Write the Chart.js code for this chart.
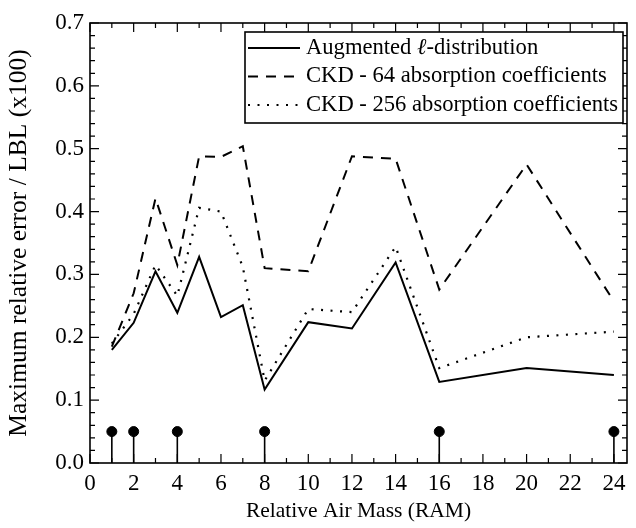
<!DOCTYPE html>
<html>
<head>
<meta charset="utf-8">
<script src="https://cdn.jsdelivr.net/npm/chart.js@4"></script>
<style>
  body { margin: 0; background: #fff; }
</style>
</head>
<body>
<canvas id="myChart" width="636" height="528"></canvas>
<script>
const ram = [1, 2, 3, 4, 5, 6, 7, 8, 10, 12, 14, 16, 20, 24];
const augmented = [0.180, 0.223, 0.305, 0.239, 0.328, 0.232, 0.251, 0.117, 0.224, 0.214, 0.319, 0.129, 0.151, 0.140];
const ckd64 = [0.185, 0.270, 0.421, 0.315, 0.488, 0.487, 0.504, 0.310, 0.305, 0.488, 0.484, 0.276, 0.475, 0.257];
const ckd256 = [0.190, 0.237, 0.315, 0.266, 0.406, 0.400, 0.312, 0.131, 0.245, 0.240, 0.344, 0.151, 0.200, 0.209];
const stemRam = [1, 2, 4, 8, 16, 24];
const stemHeight = [0.05, 0.05, 0.05, 0.05, 0.05, 0.05];
const yTicks = [0, 0.1, 0.2, 0.3, 0.4, 0.5, 0.6, 0.7];

const serif = "'Liberation Serif', 'Times New Roman', serif";
Chart.defaults.font.family = serif;
Chart.defaults.font.size = 23;
Chart.defaults.color = '#000';

function pts(xs, ys) {
    return xs.map((v, i) => ({ x: v, y: ys[i] }));
}

// frame with inward ticks on all four sides
const frameTicks = {
    id: 'frameTicks',
    afterDraw(chart) {
        const { ctx, chartArea: a, scales: { x, y } } = chart;
        ctx.save();
        ctx.strokeStyle = '#000';
        ctx.lineWidth = 1.2;
        ctx.beginPath();
        for (let v = 0; v <= x.max; v += 1) {
            const px = x.getPixelForValue(v);
            const len = v % 2 === 0 ? 9 : 5;
            ctx.moveTo(px, a.bottom); ctx.lineTo(px, a.bottom - len);
            ctx.moveTo(px, a.top); ctx.lineTo(px, a.top + len);
        }
        for (let i = 0; i <= 35; i++) {
            const py = y.getPixelForValue(i * 0.02);
            const len = i % 5 === 0 ? 9 : 5;
            ctx.moveTo(a.left, py); ctx.lineTo(a.left + len, py);
            ctx.moveTo(a.right, py); ctx.lineTo(a.right - len, py);
        }
        ctx.stroke();
        ctx.lineWidth = 1.6;
        ctx.strokeRect(a.left, a.top, a.right - a.left, a.bottom - a.top);
        ctx.restore();
    }
};

// vertical stems under the marker points
const stems = {
    id: 'stems',
    beforeDatasetsDraw(chart) {
        const { ctx, scales: { x, y } } = chart;
        ctx.save();
        ctx.strokeStyle = '#000';
        ctx.lineWidth = 1.6;
        ctx.beginPath();
        stemRam.forEach((v, i) => {
            const px = x.getPixelForValue(v);
            ctx.moveTo(px, y.getPixelForValue(0));
            ctx.lineTo(px, y.getPixelForValue(stemHeight[i]));
        });
        ctx.stroke();
        ctx.restore();
    }
};

// boxed legend inside the plot
const boxLegend = {
    id: 'boxLegend',
    afterDraw(chart) {
        const { ctx } = chart;
        const left = 245, top = 32, right = 623, bottom = 123;
        const font = '22.6px ' + serif;
        ctx.save();
        ctx.fillStyle = '#fff';
        ctx.fillRect(left, top, right - left, bottom - top);
        ctx.strokeStyle = '#000';
        ctx.lineWidth = 1.6;
        ctx.strokeRect(left, top, right - left, bottom - top);
        ctx.textBaseline = 'middle';
        ctx.fillStyle = '#000';
        chart.data.datasets.slice(0, 3).forEach((ds, i) => {
            const rowY = 48 + i * 28.5;
            ctx.beginPath();
            ctx.lineWidth = ds.borderWidth;
            ctx.setLineDash(ds.borderDash || []);
            ctx.moveTo(248, rowY);
            ctx.lineTo(300, rowY);
            ctx.stroke();
            ctx.setLineDash([]);
            let tx = 306;
            ctx.font = font;
            if (i === 0) {
                ctx.fillText('Augmented ', tx, rowY);
                tx += ctx.measureText('Augmented ').width;
                ctx.font = 'italic ' + font;
                ctx.fillText('ℓ', tx, rowY);
                tx += ctx.measureText('ℓ').width;
                ctx.font = font;
                ctx.fillText('-distribution', tx, rowY);
            } else {
                ctx.fillText(ds.label, tx, rowY);
            }
        });
        ctx.restore();
    }
};

const config = {
    type: 'line',
    data: {
        datasets: [{
            label: 'Augmented ℓ-distribution',
            data: pts(ram, augmented),
            borderColor: '#000',
            borderWidth: 2,
            pointRadius: 0,
            tension: 0
        }, {
            label: 'CKD - 64 absorption coefficients',
            data: pts(ram, ckd64),
            borderColor: '#000',
            borderWidth: 2,
            borderDash: [10, 8],
            pointRadius: 0,
            tension: 0
        }, {
            label: 'CKD - 256 absorption coefficients',
            data: pts(ram, ckd256),
            borderColor: '#000',
            borderWidth: 2.2,
            borderDash: [2, 7.5],
            pointRadius: 0,
            tension: 0
        }, {
            label: 'stems',
            data: pts(stemRam, stemHeight),
            showLine: false,
            pointRadius: 5,
            pointBackgroundColor: '#000',
            pointBorderColor: '#000'
        }]
    },
    options: {
        responsive: false,
        animation: false,
        layout: { padding: { left: 0, right: 9, top: 23, bottom: 0 } },
        plugins: {
            legend: { display: false },
            tooltip: { enabled: false }
        },
        scales: {
            x: {
                type: 'linear',
                min: 0,
                max: 24.6,
                grid: { display: false, drawTicks: false },
                border: { display: false },
                ticks: { stepSize: 2, includeBounds: false, padding: 7, maxRotation: 0 },
                title: {
                    display: true,
                    text: 'Relative Air Mass (RAM)',
                    font: { size: 21.5 },
                    padding: { top: 0, bottom: 4 }
                },
                afterFit(scale) { scale.height = 65; }
            },
            y: {
                min: 0,
                max: 0.7,
                grid: { display: false, drawTicks: false },
                border: { display: false },
                afterBuildTicks(scale) { scale.ticks = yTicks.map(v => ({ value: v })); },
                ticks: { padding: 6, callback: v => v.toFixed(1) },
                title: {
                    display: true,
                    text: 'Maximum relative error / LBL (x100)',
                    font: { size: 25.5 },
                    padding: { top: 4, bottom: 0 }
                },
                afterFit(scale) { scale.width = 90; }
            }
        }
    },
    plugins: [stems, frameTicks, boxLegend]
};

const myChart = new Chart(document.getElementById('myChart'), config);
</script>
</body>
</html>
